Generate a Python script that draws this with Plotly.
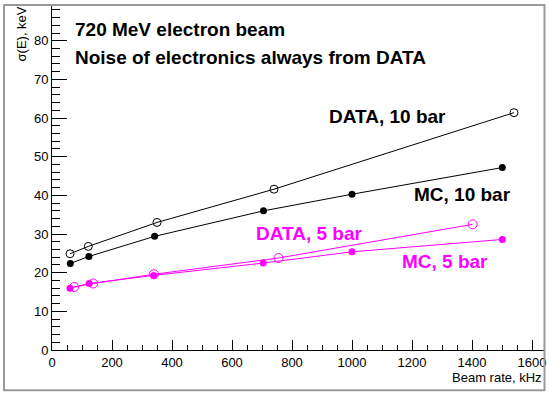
import plotly.graph_objects as go

# ---- data ----
data10_x = [60, 121, 350, 740, 1540]
data10_y = [24.9, 26.8, 33.0, 41.6, 61.4]

mc10_x = [61, 123, 342, 705, 1000, 1501]
mc10_y = [22.4, 24.2, 29.4, 36.0, 40.3, 47.2]

mc5_x = [60, 124, 339, 704, 1000, 1501]
mc5_y = [16.0, 17.2, 19.3, 22.5, 25.4, 28.6]

data5_x = [74, 137, 340, 755, 1402]
data5_y = [16.3, 17.2, 19.6, 23.8, 32.5]

x_range = [0, 1640]
y_range = [0, 89.25]
x_ticks = [0, 200, 400, 600, 800, 1000, 1200, 1400, 1600]
y_ticks = [0, 10, 20, 30, 40, 50, 60, 70, 80]

BLACK = "#000000"
MAG = "#ff00ff"
FONT = "Liberation Sans, Arial, Helvetica, sans-serif"

fig = go.Figure()

fig.add_trace(go.Scatter(
    x=data10_x, y=data10_y, mode="lines+markers",
    line=dict(color=BLACK, width=1),
    marker=dict(symbol="circle-open", size=8, color=BLACK, line=dict(width=1, color=BLACK)),
    showlegend=False))
fig.add_trace(go.Scatter(
    x=mc10_x, y=mc10_y, mode="lines+markers",
    line=dict(color=BLACK, width=1),
    marker=dict(symbol="circle", size=7, color=BLACK),
    showlegend=False))
fig.add_trace(go.Scatter(
    x=data5_x, y=data5_y, mode="lines+markers",
    line=dict(color=MAG, width=1),
    marker=dict(symbol="circle-open", size=9, color=MAG, line=dict(width=1, color=MAG)),
    showlegend=False))
fig.add_trace(go.Scatter(
    x=mc5_x, y=mc5_y, mode="lines+markers",
    line=dict(color=MAG, width=1),
    marker=dict(symbol="circle", size=7, color=MAG),
    showlegend=False))

labels = [
    ("720 MeV electron beam", 70, 83.0, BLACK),
    ("Noise of electronics always from DATA", 70, 75.7, BLACK),
    ("DATA, 10 bar", 917, 60.3, BLACK),
    ("MC, 10 bar", 1200, 40.3, BLACK),
    ("DATA, 5 bar", 674, 30.2, MAG),
    ("MC, 5 bar", 1159, 22.9, MAG),
]
annotations = []
for txt, ax, ay, col in labels:
    annotations.append(dict(
        text="<b>%s</b>" % txt, x=ax, y=ay, xref="x", yref="y",
        xanchor="left", yanchor="middle", showarrow=False,
        font=dict(family=FONT, size=19, color=col)))

annotations.append(dict(
    text="Beam rate, kHz", x=1.0, y=-0.079, xref="paper", yref="paper",
    xanchor="right", yanchor="middle", showarrow=False,
    font=dict(family=FONT, size=13, color=BLACK)))
annotations.append(dict(
    text="σ(E), keV", x=-0.062, y=0.916, xref="paper", yref="paper",
    xanchor="center", yanchor="middle", showarrow=False, textangle=-90,
    font=dict(family=FONT, size=13, color=BLACK)))

fig.update_layout(
    width=549, height=394,
    margin=dict(l=52, r=3, t=5, b=44),
    paper_bgcolor="white", plot_bgcolor="white",
    annotations=annotations,
    shapes=[dict(type="rect", xref="paper", yref="paper",
                 x0=-0.0975, x1=1.001, y0=-0.117, y1=1.0,
                 line=dict(color="#9a9a9a", width=2), layer="above")],
    xaxis=dict(
        range=x_range, tickvals=x_ticks, ticks="inside", ticklen=10,
        tickcolor=BLACK, tickwidth=1, showline=True, linecolor=BLACK, linewidth=1,
        showgrid=False, zeroline=False,
        tickfont=dict(family=FONT, size=13, color=BLACK),
        minor=dict(dtick=50, ticks="inside", ticklen=5, tickcolor=BLACK, showgrid=False)),
    yaxis=dict(
        range=y_range, tickvals=y_ticks, ticks="inside", ticklen=15,
        tickcolor=BLACK, tickwidth=1, showline=True, linecolor=BLACK, linewidth=1,
        showgrid=False, zeroline=False,
        tickfont=dict(family=FONT, size=13, color=BLACK),
        minor=dict(dtick=2, ticks="inside", ticklen=8, tickcolor=BLACK, showgrid=False)),
)

fig.write_html("out.html")
